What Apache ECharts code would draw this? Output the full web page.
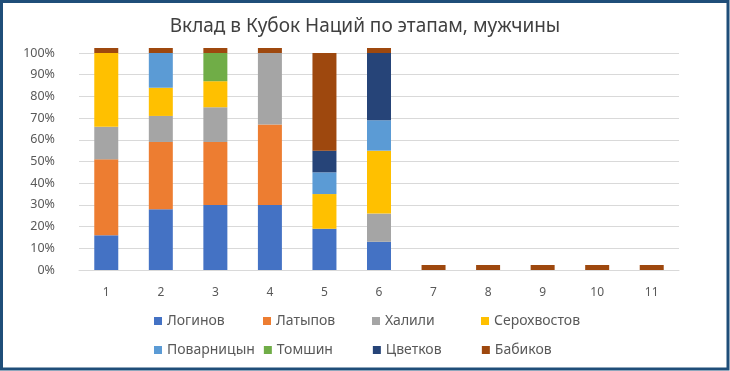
<!DOCTYPE html>
<html>
<head>
<meta charset="utf-8">
<script src="https://cdn.jsdelivr.net/npm/echarts@6/dist/echarts.min.js"></script>
<style>
html,body{margin:0;padding:0;background:#fff;}
#chart{width:730px;height:371px;}
</style>
</head>
<body>
<div id="chart"></div>
<script>
var categories = ['1','2','3','4','5','6','7','8','9','10','11'];
var seriesNames = ['Логинов','Латыпов','Халили','Серохвостов','Поварницын','Томшин','Цветков','Бабиков'];
var loginov      = [16, 28, 30, 30, 19, 13, 0, 0, 0, 0, 0];
var latypov      = [35, 31, 29, 37, 0, 0, 0, 0, 0, 0, 0];
var khalili      = [15, 12, 16, 33, 0, 13, 0, 0, 0, 0, 0];
var serokhvostov = [34, 13, 12, 0, 16, 29, 0, 0, 0, 0, 0];
var povarnitsyn  = [0, 16, 0, 0, 10, 14, 0, 0, 0, 0, 0];
var tomshin      = [0, 0, 13, 0, 0, 0, 0, 0, 0, 0, 0];
var tsvetkov     = [0, 0, 0, 0, 10, 31, 0, 0, 0, 0, 0];
var babikov      = [0, 0, 0, 0, 45, 0, 0, 0, 0, 0, 0];
var colors = ['#4472C4','#ED7D31','#A5A5A5','#FFC000','#5B9BD5','#70AD47','#264478','#9E480E'];
var values = [loginov, latypov, khalili, serokhvostov, povarnitsyn, tomshin, tsvetkov, babikov];

var chart = echarts.init(document.getElementById('chart'), null, {renderer:'canvas'});
var series = seriesNames.map(function(n, i){
  return {
    name: n,
    type: 'bar',
    stack: 'total',
    barWidth: 24,
    barMinHeight: i === 7 ? 5 : 0,
    clip: false,
    itemStyle: {color: colors[i]},
    data: values[i]
  };
});
chart.setOption({
  animation: false,
  color: colors,
  title: {
    text: 'Вклад в Кубок Наций по этапам, мужчины',
    left: 'center',
    top: 12,
    textStyle: {fontFamily: 'Noto Sans', fontSize: 19, fontWeight: 'normal', color: '#404040'}
  },
  grid: {left: 79, right: 51, top: 53, bottom: 101},
  xAxis: {
    type: 'category',
    data: categories,
    axisTick: {show: false},
    axisLine: {show: true, lineStyle: {color: '#d9d9d9'}},
    axisLabel: {margin: 17, color: '#595959', fontFamily: 'Noto Sans', fontSize: 12}
  },
  yAxis: {
    type: 'value',
    min: 0, max: 100, interval: 10,
    axisLabel: {formatter: '{value}%', margin: 24, color: '#595959', fontFamily: 'Noto Sans', fontSize: 12.5},
    splitLine: {lineStyle: {color: '#d9d9d9'}},
    axisLine: {show: false},
    axisTick: {show: false}
  },
  legend: {
    data: seriesNames,
    left: 149,
    top: 306,
    width: 440,
    itemWidth: 8,
    itemHeight: 8,
    itemGap: 9,
    icon: 'rect',
    textStyle: {fontFamily: 'Noto Sans', fontSize: 14, color: '#595959', width: 87, lineHeight: 20}
  },
  graphic: [{
    type: 'rect',
    shape: {x: 1.5, y: 1.5, width: 726.5, height: 367.5},
    style: {fill: 'none', stroke: '#1F4E79', lineWidth: 3},
    z: 100
  }],
  series: series
});
</script>
</body>
</html>
